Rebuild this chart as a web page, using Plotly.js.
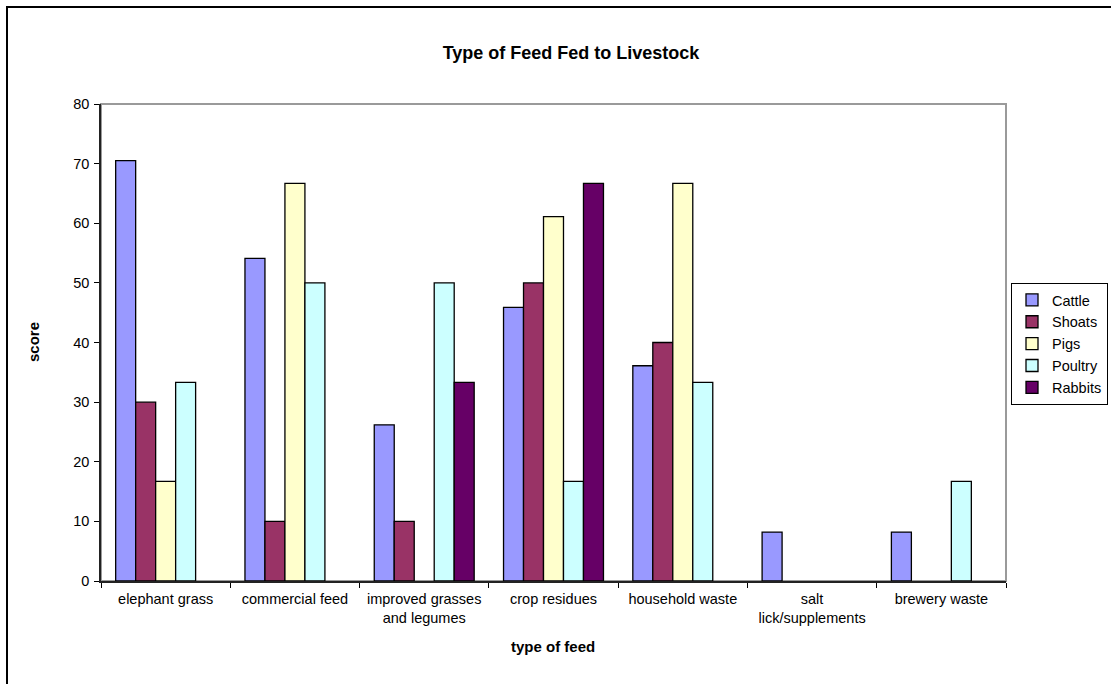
<!DOCTYPE html>
<html>
<head>
<meta charset="utf-8">
<script src="https://cdn.plot.ly/plotly-3.0.1.min.js"></script>
<style>
  html, body { margin: 0; padding: 0; background: #fff; }
  #chart { width: 1111px; height: 684px; }
</style>
</head>
<body>
<div id="chart"></div>
<script>
// Feed types on the category axis
const feedTypes = ['elephant grass', 'commercial feed', 'improved grasses and legumes',
  'crop residues', 'household waste', 'salt lick/supplements', 'brewery waste'];
const feedTickLabels = ['elephant grass', 'commercial feed', 'improved grasses<br>and legumes',
  'crop residues', 'household waste', 'salt<br>lick/supplements', 'brewery waste'];

// Score per livestock type (null = feed not used)
const cattle  = [70.5, 54.1, 26.2, 45.9, 36.1, 8.2, 8.2];
const shoats  = [30.0, 10.0, 10.0, 50.0, 40.0, null, null];
const pigs    = [16.7, 66.7, null, 61.1, 66.7, null, null];
const poultry = [33.3, 50.0, 50.0, 16.7, 33.3, null, 16.7];
const rabbits = [null, null, 33.3, 66.7, null, null, null];

const yTicks = [0, 10, 20, 30, 40, 50, 60, 70, 80];

const FONT = 'Arial, "Liberation Sans", sans-serif';

// Plot area in pixels, used to place the frame and titles
const W = 1111, H = 684;
const PL = 101, PR = 1006, PT = 104, PB = 581;
const px2x = p => (p - PL) / (PR - PL);
const px2y = p => (PB - p) / (PB - PT);

const series = [
  { name: 'Cattle',  y: cattle,  color: '#9999FF' },
  { name: 'Shoats',  y: shoats,  color: '#993366' },
  { name: 'Pigs',    y: pigs,    color: '#FFFFCC' },
  { name: 'Poultry', y: poultry, color: '#CCFFFF' },
  { name: 'Rabbits', y: rabbits, color: '#660066' }
];

const traces = series.map(s => ({
  type: 'bar',
  name: s.name,
  x: feedTypes,
  y: s.y,
  marker: { color: s.color, line: { color: '#000000', width: 1.3 } },
  hoverinfo: 'x+y+name'
}));

const layout = {
  width: W,
  height: H,
  margin: { l: PL, r: W - PR, t: PT, b: H - PB, pad: 0, autoexpand: false },
  paper_bgcolor: '#ffffff',
  plot_bgcolor: '#ffffff',
  font: { family: FONT, size: 14.5, color: '#000000' },
  barmode: 'group',
  bargap: 0.227,
  bargroupgap: 0,
  title: {
    text: '<b>Type of Feed Fed to Livestock</b>',
    font: { family: FONT, size: 18, color: '#000000' },
    xref: 'container', x: 571 / W, xanchor: 'center',
    yref: 'container', y: 1 - 53 / H, yanchor: 'middle'
  },
  xaxis: {
    type: 'category',
    tickvals: feedTypes,
    ticktext: feedTickLabels,
    tickson: 'boundaries',
    ticks: 'outside',
    ticklen: 5,
    tickwidth: 1,
    tickcolor: '#000000',
    ticklabelstandoff: 4,
    showline: true,
    linecolor: '#222222',
    linewidth: 1.5,
    showgrid: false,
    zeroline: false,
    tickfont: { family: FONT, size: 14.5, color: '#000000' },
    automargin: false
  },
  yaxis: {
    range: [0, 80],
    tickvals: yTicks,
    ticks: 'outside',
    ticklen: 5,
    tickwidth: 1,
    tickcolor: '#000000',
    ticklabelstandoff: 2,
    showline: true,
    linecolor: '#222222',
    linewidth: 1.5,
    showgrid: false,
    zeroline: false,
    tickfont: { family: FONT, size: 14.5, color: '#000000' },
    automargin: false
  },
  legend: {
    x: px2x(1011), xanchor: 'left',
    y: px2y(283), yanchor: 'top',
    bgcolor: '#ffffff',
    bordercolor: '#000000',
    borderwidth: 1,
    font: { family: FONT, size: 14.5, color: '#000000' },
    itemwidth: 30,
    traceorder: 'normal'
  },
  annotations: [
    {
      text: '<b>type of feed</b>', showarrow: false,
      xref: 'paper', x: px2x(553), xanchor: 'center',
      yref: 'paper', y: px2y(646), yanchor: 'middle',
      font: { family: FONT, size: 15, color: '#000000' }
    },
    {
      text: '<b>score</b>', showarrow: false, textangle: -90,
      xref: 'paper', x: px2x(33), xanchor: 'center',
      yref: 'paper', y: px2y(342), yanchor: 'middle',
      font: { family: FONT, size: 15, color: '#000000' }
    }
  ],
  shapes: [
    // plot area border (top and right edges show in grey)
    {
      type: 'rect', xref: 'paper', yref: 'paper', layer: 'below',
      x0: 0, x1: 1, y0: 0, y1: 1,
      line: { color: '#9a9a9a', width: 2 }, fillcolor: 'rgba(0,0,0,0)'
    },
    // chart frame: left and top edges
    {
      type: 'line', xref: 'paper', yref: 'paper',
      x0: px2x(7), x1: px2x(7), y0: px2y(6), y1: px2y(H + 10),
      line: { color: '#000000', width: 2 }
    },
    {
      type: 'line', xref: 'paper', yref: 'paper',
      x0: px2x(6), x1: px2x(W + 10), y0: px2y(7), y1: px2y(7),
      line: { color: '#000000', width: 2 }
    }
  ],
  showlegend: true
};

Plotly.newPlot('chart', traces, layout, { displayModeBar: false, responsive: false });
</script>
</body>
</html>
